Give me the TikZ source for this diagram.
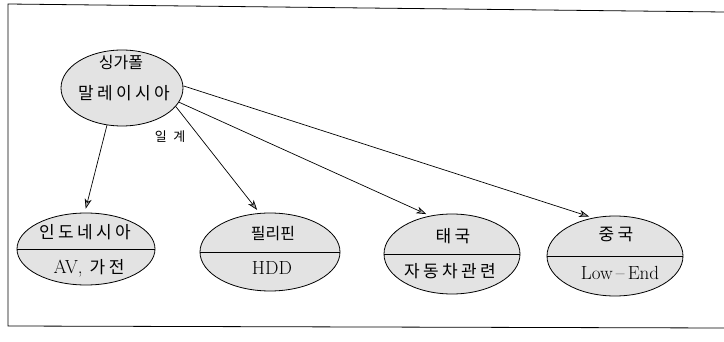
\documentclass[tikz,border=0pt]{standalone}
\usepackage{fontspec}
\newfontfamily\cjk[LetterSpace=20]{Noto Sans CJK KR}
\newfontfamily\cjkn[LetterSpace=0]{Noto Sans CJK KR}
\newfontfamily\cjkw[LetterSpace=50]{Noto Sans CJK KR}
\usetikzlibrary{arrows.meta,shapes.geometric}
\tikzset{
  blob/.style={ellipse,draw,line width=0.8pt,fill=black!11,inner sep=0pt},
  lbl/.style={inner sep=0pt,font=\cjk\fontsize{17}{17}\selectfont},
  lbln/.style={inner sep=0pt,font=\cjkn\fontsize{16}{16}\selectfont},
  lat/.style={inner sep=0pt,font=\fontsize{19}{19}\selectfont},
  link/.style={line width=0.7pt,-{Stealth[length=10pt,width=7pt,inset=3pt,fill=black!35]},shorten >=4pt}
}
\begin{document}
\begin{tikzpicture}[x=1pt,y=-1pt]
\useasboundingbox (0,0) rectangle (724,342);
% frame
\draw[line width=0.8pt] (724,12) -- (8,4) -- (8,326) -- (724,328);
% top node
\node[blob,minimum width=122pt,minimum height=76pt] (top) at (122,88) {};
\node[lbln] (t1) at (121,63) {싱가폴};
\node[lbl] (t2) at (124,93) {말레이시아};
% bottom nodes
\node[blob,minimum width=138pt,minimum height=72pt] (indo) at (86,249) {};
\node[blob,minimum width=140pt,minimum height=78pt] (phil) at (270,252) {};
\node[blob,minimum width=136pt,minimum height=80pt] (thai) at (452,254) {};
\node[blob,minimum width=136pt,minimum height=80pt] (china) at (615,256) {};
\foreach \n in {indo,phil,thai,china}{\draw[line width=0.8pt] (\n.west) -- (\n.east);}
\node[lbl] (i1) at (85,232) {인도네시아};
\node[inner sep=0pt] (i2) at (89,268) {{\fontsize{19}{19}\selectfont AV,}\hspace{7pt}{\cjk\fontsize{17}{17}\selectfont 가전}};
\node[lbln] (p1) at (273,234) {필리핀};
\node[lat] (p2) at (272,268) {HDD};
\node[lbl] (h1) at (453,236) {태국};
\node[lbl] (h2) at (450,271) {자동차관련};
\node[lbl] (c1) at (616,234) {중국};
\node[lat] (c2) at (620,273) {Low\,--\,End};
% label
\node[font=\cjkw\fontsize{13}{13}\selectfont,inner sep=0pt] (lab) at (170,137) {일계};
% connectors
\draw[link] (top.-112) -- (indo.92);
\draw[link] (top.-19) -- (phil.105);
\draw[link] (top.-14) -- (thai.120);
\draw[link] (top.2) -- (china.120);
\end{tikzpicture}
\end{document}
